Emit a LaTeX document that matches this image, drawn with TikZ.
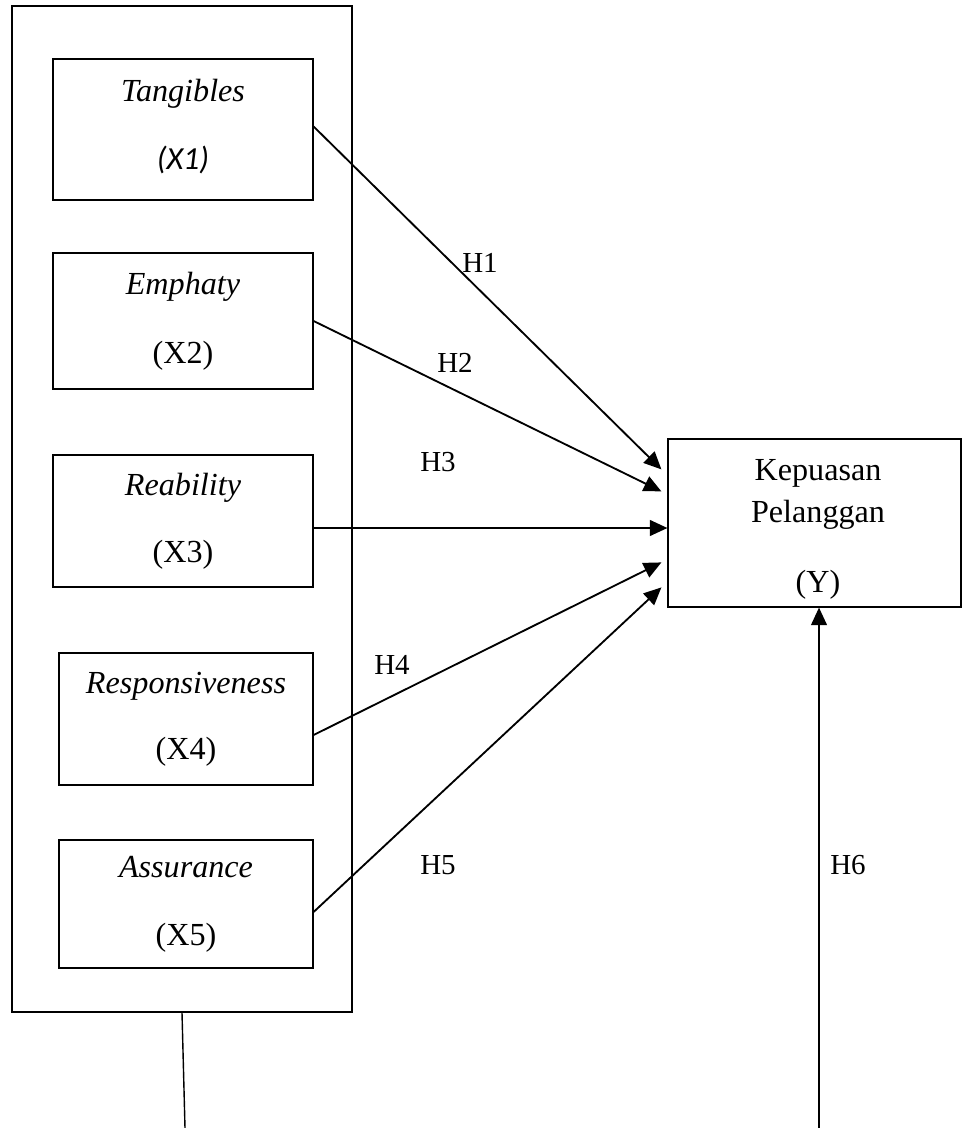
\documentclass[tikz,border=0pt]{standalone}
\usepackage{fontspec}
\setmainfont{Liberation Serif}
\newfontfamily\calibri{Carlito}
\usetikzlibrary{arrows.meta, calc}
\tikzset{
    varbox/.style={draw, line width=0.7pt, align=center, inner sep=0pt, font=\fontsize{18.3}{21}\selectfont},
    arr/.style={-{Triangle[length=10pt, width=9pt]}, line width=1.05pt},
    hlab/.style={inner sep=0pt, font=\fontsize{16.5}{20}\selectfont}
}

\begin{document}
\begin{tikzpicture}[x=0.02cm, y=-0.02cm]
    \useasboundingbox (0,0) rectangle (961,1128);

    % Frame round the five service quality dimensions
    \node[draw, line width=0.8pt, minimum width=6.8cm, minimum height=20.12cm] (frame) at (182,509) {};

    % Dimensions
    \node[varbox, minimum width=5.2cm, minimum height=2.82cm] (tang) at (183,129.5) {\textit{Tangibles}\\[17.5pt]{\calibri\itshape (X1)}\rule[-6pt]{0pt}{6pt}};
    \node[varbox, minimum width=5.2cm, minimum height=2.72cm] (emph) at (183,321) {\textit{Emphaty}\\[18.5pt](X2)};
    \node[varbox, minimum width=5.2cm, minimum height=2.64cm] (reab) at (183,521) {\textit{Reability}\\[17pt](X3)};
    \node[varbox, minimum width=5.08cm, minimum height=2.64cm] (resp) at (186,719) {\textit{Responsiveness}\\[16.5pt](X4)};
    \node[varbox, minimum width=5.08cm, minimum height=2.56cm] (assur) at (186,904) {\textit{Assurance}\\[17.5pt](X5)};

    % Dependent variable
    \node[varbox, minimum width=5.86cm, minimum height=3.36cm, font=\fontsize{18.3}{24}\selectfont] (Y) at (814.5,523) {\rule{0pt}{19.5pt}\hspace{4pt}Kepuasan\\\hspace{4pt}Pelanggan\\[16pt]\hspace{4pt}(Y)};

    % Hypotheses
    \draw[arr] ($(tang.east)+(0,-3)$) -- ($(Y.north west)+(-6,31)$);
    \draw[arr] (emph.east) -- ($(Y.north west)+(-6,53)$);
    \draw[arr] ($(reab.east)+(0,7)$) -- ($(Y.west)+(0,5)$);
    \draw[arr] ($(resp.east)+(0,16)$) -- ($(Y.north west)+(-6,124)$);
    \draw[arr] ($(assur.east)+(0,8)$) -- ($(Y.north west)+(-6,149)$);

    \coordinate (h6foot) at (819,1128);
    \draw[arr] (h6foot) -- (h6foot |- Y.south);
    \coordinate (framefoot) at (185,1128);
    \draw[line width=0.8pt] (frame.south) -- (framefoot);

    % Labels
    \node[hlab] (h1) at (480,263) {H1};
    \node[hlab] (h2) at (455,363) {H2};
    \node[hlab] (h3) at (438,462) {H3};
    \node[hlab] (h4) at (392,665) {H4};
    \node[hlab] (h5) at (438,865) {H5};
    \node[hlab] (h6) at (848,865) {H6};
\end{tikzpicture}
\end{document}
